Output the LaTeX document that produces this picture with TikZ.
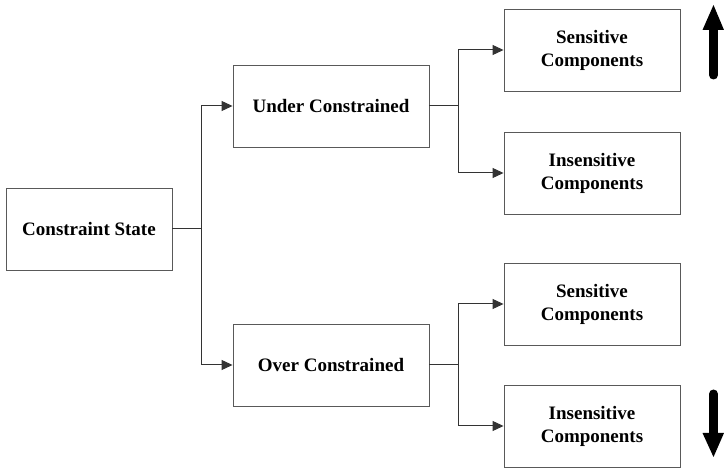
\documentclass[tikz,border=0pt]{standalone}
\usepackage{fontspec}
\setmainfont{Liberation Serif}
\usetikzlibrary{arrows.meta}
\begin{document}
\begin{tikzpicture}[x=1pt,y=-1pt,
  box/.style={draw=black!65,line width=0.9pt,rectangle,minimum height=82pt,align=center,
    font=\fontsize{19}{23}\selectfont\bfseries,inner sep=0pt},
  conn/.style={draw=black!80,line width=1pt},
  arr/.style={conn,-{Triangle[length=11pt,width=10pt]}},
  bigshaft/.style={line width=9pt,line cap=round},
  bighead/.style={fill=black}]
\useasboundingbox (0,0) rectangle (724,470);
\node[box,minimum width=166pt] (cs) at (89,229) {Constraint State};
\node[box,minimum width=196pt] (uc) at (331,106) {Under Constrained};
\node[box,minimum width=196pt] (oc) at (331,365) {Over Constrained};
\node[box,minimum width=176pt] (s1) at (592,50) {Sensitive\\Components};
\node[box,minimum width=176pt] (i1) at (592,173) {Insensitive\\Components};
\node[box,minimum width=176pt] (s2) at (592,304) {Sensitive\\Components};
\node[box,minimum width=176pt] (i2) at (592,426) {Insensitive\\Components};
\coordinate (j1) at (201,229);
\coordinate (j2) at (458,106);
\coordinate (j3) at (458,365);
\draw[conn] (cs.east) -- (j1);
\draw[arr] (j1) |- (uc.west);
\draw[arr] (j1) |- (oc.west);
\draw[conn] (uc.east) -- (j2);
\draw[arr] (j2) |- (s1.west);
\draw[arr] (j2) |- (i1.west);
\draw[conn] (oc.east) -- (j3);
\draw[arr] (j3) |- (s2.west);
\draw[arr] (j3) |- (i2.west);
% up arrow
\draw[bigshaft] (713.5,75) -- (713.5,28);
\fill[bighead] (702.5,30) -- (724,30) -- (713.5,5) -- cycle;
% down arrow
\draw[bigshaft] (713.5,394) -- (713.5,435);
\fill[bighead] (702.5,433) -- (724,433) -- (713.5,457) -- cycle;
\end{tikzpicture}
\end{document}
